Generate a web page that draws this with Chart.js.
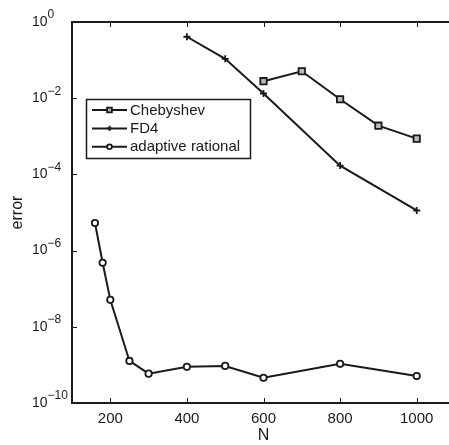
<!DOCTYPE html>
<html lang="en">
<head>
<meta charset="utf-8">
<title>Error vs N</title>
<script src="https://cdn.jsdelivr.net/npm/chart.js"></script>
<style>
	html, body { margin: 0; padding: 0; background: #fff; overflow: hidden; }
	.chart-box { width: 470px; height: 445px; }
</style>
</head>
<body>
<div class="chart-box"><canvas id="errChart"></canvas></div>
<script>
	const chebN = [600, 700, 800, 900, 1000];
	const chebErr = [2.8e-2, 5.1e-2, 9.4e-3, 1.9e-3, 8.7e-4];
	const fd4N = [400, 500, 600, 800, 1000];
	const fd4Err = [0.41, 0.108, 1.33e-2, 1.7e-4, 1.13e-5];
	const ratN = [160, 180, 200, 250, 300, 400, 500, 600, 800, 1000];
	const ratErr = [5.3e-6, 4.8e-7, 5.1e-8, 1.27e-9, 5.9e-10, 8.9e-10, 9.4e-10, 4.6e-10, 1.07e-9, 5.1e-10];
	const xTicks = [200, 400, 600, 800, 1000];
	const yTickExps = [0, -2, -4, -6, -8, -10];

	const FONT = "'Liberation Sans', Arial, sans-serif";
	const INK = '#1a1a1a';

	function pts(xs, ys) {
		return xs.map((x, i) => ({ x: x, y: ys[i] }));
	}

	// frame, inward ticks and 10^n labels, matlab style
	const axesPlugin = {
		id: 'matlabAxes',
		afterDatasetsDraw(chart) {
			const ctx = chart.ctx;
			const a = chart.chartArea;
			const xs = chart.scales.x, ys = chart.scales.y;
			ctx.save();
			ctx.strokeStyle = INK;
			ctx.lineWidth = 2;
			ctx.strokeRect(a.left, a.top, a.right - a.left, a.bottom - a.top);
			ctx.lineWidth = 1;
			ctx.beginPath();
			xTicks.forEach(v => {
				const px = Math.round(xs.getPixelForValue(v)) + 0.5;
				ctx.moveTo(px, a.bottom); ctx.lineTo(px, a.bottom - 5);
				ctx.moveTo(px, a.top); ctx.lineTo(px, a.top + 5);
			});
			yTickExps.forEach(e => {
				const py = Math.round(ys.getPixelForValue(Math.pow(10, e))) + 0.5;
				ctx.moveTo(a.left, py); ctx.lineTo(a.left + 5, py);
				ctx.moveTo(a.right, py); ctx.lineTo(a.right - 5, py);
			});
			ctx.stroke();

			ctx.fillStyle = INK;
			ctx.textBaseline = 'middle';
			ctx.textAlign = 'left';
			yTickExps.forEach(e => {
				const py = ys.getPixelForValue(Math.pow(10, e));
				ctx.font = '14px ' + FONT;
				ctx.fillText('10', 32, py);
				const w = ctx.measureText('10').width;
				ctx.font = '12px ' + FONT;
				ctx.fillText(e === 0 ? '0' : '\u2212' + Math.abs(e), 32 + w, py - 7);
			});
			ctx.restore();
		},
		afterDraw(chart) {
			const ctx = chart.ctx;
			const box = { x: 86.5, y: 99.5, w: 164, h: 59 };
			ctx.save();
			ctx.fillStyle = '#fff';
			ctx.strokeStyle = INK;
			ctx.lineWidth = 1.5;
			ctx.fillRect(box.x, box.y, box.w, box.h);
			ctx.strokeRect(box.x, box.y, box.w, box.h);
			chart.data.datasets.forEach((ds, i) => {
				const cy = 110 + i * 18.4;
				ctx.strokeStyle = ds.borderColor;
				ctx.lineWidth = ds.borderWidth;
				ctx.beginPath();
				ctx.moveTo(92, cy); ctx.lineTo(127, cy);
				ctx.stroke();
				ctx.fillStyle = ds.pointBackgroundColor;
				ctx.lineWidth = ds.pointBorderWidth;
				Chart.helpers.drawPoint(ctx, {
					pointStyle: ds.pointStyle, radius: ds.pointRadius * 0.75,
					borderWidth: ds.pointBorderWidth, rotation: 0
				}, 109.5, cy);
				ctx.fillStyle = INK;
				ctx.font = '15px ' + FONT;
				ctx.textBaseline = 'middle';
				ctx.fillText(ds.label, 130, cy + 0.5);
			});
			ctx.restore();
		}
	};

	const ctx = document.getElementById('errChart').getContext('2d');
	new Chart(ctx, {
		type: 'line',
		data: {
			datasets: [{
				label: 'Chebyshev',
				data: pts(chebN, chebErr),
				borderColor: INK, borderWidth: 2,
				pointStyle: 'rect', pointRadius: 4.5, pointBorderWidth: 1.8,
				pointBorderColor: INK, pointBackgroundColor: '#bbb'
			}, {
				label: 'FD4',
				data: pts(fd4N, fd4Err),
				borderColor: INK, borderWidth: 2,
				pointStyle: 'cross', pointRadius: 3.5, pointBorderWidth: 1.8,
				pointBorderColor: INK, pointBackgroundColor: INK
			}, {
				label: 'adaptive rational',
				data: pts(ratN, ratErr),
				borderColor: INK, borderWidth: 2,
				pointStyle: 'circle', pointRadius: 3.2, pointBorderWidth: 1.8,
				pointBorderColor: INK, pointBackgroundColor: '#fff'
			}]
		},
		options: {
			responsive: true,
			maintainAspectRatio: false,
			animation: false,
			layout: { padding: { top: 22, left: 0, right: 15, bottom: 0 } },
			plugins: { legend: { display: false }, tooltip: { enabled: false } },
			scales: {
				x: {
					type: 'linear', min: 100, max: 1100,
					afterBuildTicks: s => { s.ticks = xTicks.map(v => ({ value: v })); },
					afterFit: s => { s.height = 42; },
					grid: { display: false, drawTicks: false },
					border: { display: false },
					ticks: { color: INK, padding: 7, font: { size: 15, family: FONT }, callback: v => String(v) },
					title: { display: true, text: 'N', color: INK, padding: 0, font: { size: 16, family: FONT } }
				},
				y: {
					type: 'logarithmic', min: 1e-10, max: 1,
					afterBuildTicks: s => { s.ticks = yTickExps.map(e => ({ value: Math.pow(10, e) })); },
					afterFit: s => { s.width = 72; },
					grid: { display: false, drawTicks: false },
					border: { display: false },
					ticks: { display: false },
					title: { display: true, text: 'error', color: INK, padding: { top: 8, bottom: 0 }, font: { size: 16, family: FONT } }
				}
			}
		},
		plugins: [axesPlugin]
	});
</script>
</body>
</html>
